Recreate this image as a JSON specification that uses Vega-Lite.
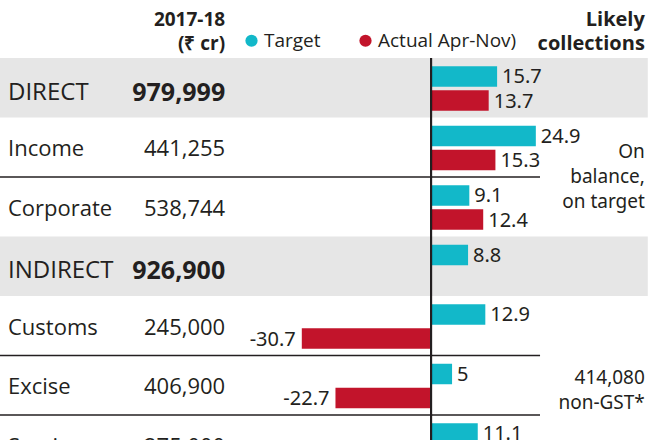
{
  "$schema": "https://vega.github.io/schema/vega-lite/v6.json",
  "width": 660,
  "height": 440,
  "autosize": {"type": "none"},
  "padding": 0,
  "background": "white",
  "config": {"view": {"stroke": null}, "font": "Open Sans", "text": {"color": "#231F20"}},
  "datasets": {
    "rows": [
      {"row": "DIRECT", "name": "DIRECT", "total": 979999, "kind": "main"},
      {"row": "Income", "name": "Income", "total": 441255, "kind": "sub"},
      {"row": "Corporate", "name": "Corporate", "total": 538744, "kind": "sub"},
      {"row": "INDIRECT", "name": "INDIRECT", "total": 926900, "kind": "main"},
      {"row": "Customs", "name": "Customs", "total": 245000, "kind": "sub"},
      {"row": "Excise", "name": "Excise", "total": 406900, "kind": "sub"},
      {"row": "Service", "name": "Service", "total": 275000, "kind": "sub"}
    ],
    "bars": [
      {"row": "DIRECT", "series": "Target", "value": 15.7},
      {"row": "DIRECT", "series": "Actual Apr-Nov)", "value": 13.7},
      {"row": "Income", "series": "Target", "value": 24.9},
      {"row": "Income", "series": "Actual Apr-Nov)", "value": 15.3},
      {"row": "Corporate", "series": "Target", "value": 9.1},
      {"row": "Corporate", "series": "Actual Apr-Nov)", "value": 12.4},
      {"row": "INDIRECT", "series": "Target", "value": 8.8},
      {"row": "Customs", "series": "Target", "value": 12.9},
      {"row": "Customs", "series": "Actual Apr-Nov)", "value": -30.7},
      {"row": "Excise", "series": "Target", "value": 5},
      {"row": "Excise", "series": "Actual Apr-Nov)", "value": -22.7},
      {"row": "Service", "series": "Target", "value": 11.1}
    ],
    "lines": [{"row": "Income"}, {"row": "Customs"}, {"row": "Excise"}],
    "notes": [
      {"row": "Income", "note": "On\nbalance,\non target"},
      {"row": "Excise", "note": "414,080\nnon-GST*"}
    ]
  },
  "layer": [
    {
      "data": {"name": "rows"},
      "transform": [{"filter": "datum.kind === 'main'"}],
      "mark": {"type": "rect", "color": "#E6E6E6"},
      "encoding": {
        "y": {"field": "row", "type": "nominal", "axis": null, "scale": {"type": "band", "domain": ["header", "DIRECT", "Income", "Corporate", "INDIRECT", "Customs", "Excise", "Service"], "range": [-1.5, 474.5], "paddingInner": 0, "paddingOuter": 0}},
        "x": {"datum": -102.4, "type": "quantitative", "axis": null, "scale": {"domain": [-102.4, 54.4], "nice": false, "zero": false}},
        "x2": {"datum": 51.5}
      }
    },
    {
      "data": {"name": "lines"},
      "mark": {"type": "rule", "color": "#231F20", "strokeWidth": 1.5},
      "encoding": {
        "y": {"field": "row", "type": "nominal", "bandPosition": 1, "axis": null, "scale": {"type": "band", "domain": ["header", "DIRECT", "Income", "Corporate", "INDIRECT", "Customs", "Excise", "Service"], "range": [-1.5, 474.5], "paddingInner": 0, "paddingOuter": 0}},
        "x": {"datum": -102.4, "type": "quantitative", "axis": null, "scale": {"domain": [-102.4, 54.4], "nice": false, "zero": false}},
        "x2": {"datum": 25.9}
      }
    },
    {
      "data": {"name": "bars"},
      "mark": {"type": "bar"},
      "encoding": {
        "y": {"field": "row", "type": "nominal", "axis": null, "scale": {"type": "band", "domain": ["header", "DIRECT", "Income", "Corporate", "INDIRECT", "Customs", "Excise", "Service"], "range": [-1.5, 474.5], "paddingInner": 0, "paddingOuter": 0}},
        "yOffset": {"field": "series", "type": "nominal", "scale": {"domain": ["Target", "Actual Apr-Nov)"], "paddingInner": 0.146, "paddingOuter": 0.3125, "align": 0.55}},
        "x": {"field": "value", "type": "quantitative", "axis": null, "scale": {"domain": [-102.4, 54.4], "nice": false, "zero": false}},
        "color": {
          "field": "series", "type": "nominal",
          "scale": {"domain": ["Target", "Actual Apr-Nov)"], "range": ["#12B8C9", "#C2142B"]},
          "legend": {"title": null, "orient": "none", "direction": "horizontal", "legendX": 242, "legendY": 31, "symbolType": "circle", "symbolSize": 150, "symbolStrokeWidth": 0, "labelFont": "Open Sans", "labelFontSize": 19, "labelColor": "#231F20", "labelOffset": 3, "columnPadding": 35}
        }
      }
    },
    {
      "data": {"name": "bars"},
      "transform": [{"filter": "datum.value >= 0"}],
      "mark": {"type": "text", "align": "left", "baseline": "middle", "dx": 5, "dy": 1, "font": "Noto Sans", "fontSize": 20},
      "encoding": {
        "y": {"field": "row", "type": "nominal", "axis": null, "scale": {"type": "band", "domain": ["header", "DIRECT", "Income", "Corporate", "INDIRECT", "Customs", "Excise", "Service"], "range": [-1.5, 474.5], "paddingInner": 0, "paddingOuter": 0}},
        "yOffset": {"field": "series", "type": "nominal", "scale": {"domain": ["Target", "Actual Apr-Nov)"], "paddingInner": 0.146, "paddingOuter": 0.3125, "align": 0.55}},
        "x": {"field": "value", "type": "quantitative", "axis": null, "scale": {"domain": [-102.4, 54.4], "nice": false, "zero": false}},
        "text": {"field": "value", "type": "nominal"}
      }
    },
    {
      "data": {"name": "bars"},
      "transform": [{"filter": "datum.value < 0"}],
      "mark": {"type": "text", "align": "right", "baseline": "middle", "dx": -6, "dy": 1, "font": "Noto Sans", "fontSize": 20},
      "encoding": {
        "y": {"field": "row", "type": "nominal", "axis": null, "scale": {"type": "band", "domain": ["header", "DIRECT", "Income", "Corporate", "INDIRECT", "Customs", "Excise", "Service"], "range": [-1.5, 474.5], "paddingInner": 0, "paddingOuter": 0}},
        "yOffset": {"field": "series", "type": "nominal", "scale": {"domain": ["Target", "Actual Apr-Nov)"], "paddingInner": 0.146, "paddingOuter": 0.3125, "align": 0.55}},
        "x": {"field": "value", "type": "quantitative", "axis": null, "scale": {"domain": [-102.4, 54.4], "nice": false, "zero": false}},
        "text": {"field": "value", "type": "nominal"}
      }
    },
    {
      "data": {"name": "rows"},
      "mark": {"type": "rule", "color": "#231F20", "strokeWidth": 2},
      "encoding": {
        "x": {"datum": 0, "type": "quantitative", "axis": null, "scale": {"domain": [-102.4, 54.4], "nice": false, "zero": false}},
        "y": {"datum": "DIRECT", "bandPosition": 0, "type": "nominal", "axis": null, "scale": {"type": "band", "domain": ["header", "DIRECT", "Income", "Corporate", "INDIRECT", "Customs", "Excise", "Service"], "range": [-1.5, 474.5], "paddingInner": 0, "paddingOuter": 0}},
        "y2": {"datum": "Service"}
      }
    },
    {
      "data": {"name": "rows"},
      "transform": [{"filter": "datum.kind === 'main'"}],
      "mark": {"type": "text", "align": "left", "baseline": "middle", "dy": 5, "fontSize": 24},
      "encoding": {
        "y": {"field": "row", "type": "nominal", "axis": null, "scale": {"type": "band", "domain": ["header", "DIRECT", "Income", "Corporate", "INDIRECT", "Customs", "Excise", "Service"], "range": [-1.5, 474.5], "paddingInner": 0, "paddingOuter": 0}},
        "x": {"datum": -100.5, "type": "quantitative", "axis": null, "scale": {"domain": [-102.4, 54.4], "nice": false, "zero": false}},
        "text": {"field": "name", "type": "nominal"}
      }
    },
    {
      "data": {"name": "rows"},
      "transform": [{"filter": "datum.kind === 'sub'"}],
      "mark": {"type": "text", "align": "left", "baseline": "middle", "dy": 2, "fontSize": 22},
      "encoding": {
        "y": {"field": "row", "type": "nominal", "axis": null, "scale": {"type": "band", "domain": ["header", "DIRECT", "Income", "Corporate", "INDIRECT", "Customs", "Excise", "Service"], "range": [-1.5, 474.5], "paddingInner": 0, "paddingOuter": 0}},
        "x": {"datum": -100.5, "type": "quantitative", "axis": null, "scale": {"domain": [-102.4, 54.4], "nice": false, "zero": false}},
        "text": {"field": "name", "type": "nominal"}
      }
    },
    {
      "data": {"name": "rows"},
      "transform": [{"filter": "datum.kind === 'main'"}],
      "mark": {"type": "text", "align": "right", "baseline": "middle", "dy": 5, "fontSize": 25, "fontWeight": "bold"},
      "encoding": {
        "y": {"field": "row", "type": "nominal", "axis": null, "scale": {"type": "band", "domain": ["header", "DIRECT", "Income", "Corporate", "INDIRECT", "Customs", "Excise", "Service"], "range": [-1.5, 474.5], "paddingInner": 0, "paddingOuter": 0}},
        "x": {"datum": -48.9, "type": "quantitative", "axis": null, "scale": {"domain": [-102.4, 54.4], "nice": false, "zero": false}},
        "text": {"field": "total", "type": "quantitative", "format": ","}
      }
    },
    {
      "data": {"name": "rows"},
      "transform": [{"filter": "datum.kind === 'sub'"}],
      "mark": {"type": "text", "align": "right", "baseline": "middle", "dy": 2, "fontSize": 22},
      "encoding": {
        "y": {"field": "row", "type": "nominal", "axis": null, "scale": {"type": "band", "domain": ["header", "DIRECT", "Income", "Corporate", "INDIRECT", "Customs", "Excise", "Service"], "range": [-1.5, 474.5], "paddingInner": 0, "paddingOuter": 0}},
        "x": {"datum": -48.9, "type": "quantitative", "axis": null, "scale": {"domain": [-102.4, 54.4], "nice": false, "zero": false}},
        "text": {"field": "total", "type": "quantitative", "format": ","}
      }
    },
    {
      "data": {"values": [{"h": "2017-18\n(₹ cr)"}]},
      "mark": {"type": "text", "align": "right", "baseline": "middle", "dy": -8, "fontSize": 19, "fontWeight": "bold", "lineHeight": 24, "lineBreak": "\n"},
      "encoding": {
        "y": {"datum": "header", "type": "nominal", "axis": null, "scale": {"type": "band", "domain": ["header", "DIRECT", "Income", "Corporate", "INDIRECT", "Customs", "Excise", "Service"], "range": [-1.5, 474.5], "paddingInner": 0, "paddingOuter": 0}},
        "x": {"datum": -48.9, "type": "quantitative", "axis": null, "scale": {"domain": [-102.4, 54.4], "nice": false, "zero": false}},
        "text": {"field": "h", "type": "nominal"}
      }
    },
    {
      "data": {"values": [{"h": "Likely\ncollections"}]},
      "mark": {"type": "text", "align": "right", "baseline": "middle", "dy": -8, "fontSize": 20, "fontWeight": "bold", "lineHeight": 24, "lineBreak": "\n"},
      "encoding": {
        "y": {"datum": "header", "type": "nominal", "axis": null, "scale": {"type": "band", "domain": ["header", "DIRECT", "Income", "Corporate", "INDIRECT", "Customs", "Excise", "Service"], "range": [-1.5, 474.5], "paddingInner": 0, "paddingOuter": 0}},
        "x": {"datum": 50.8, "type": "quantitative", "axis": null, "scale": {"domain": [-102.4, 54.4], "nice": false, "zero": false}},
        "text": {"field": "h", "type": "nominal"}
      }
    },
    {
      "data": {"name": "notes"},
      "transform": [{"filter": "datum.row === 'Income'"}],
      "mark": {"type": "text", "align": "right", "baseline": "middle", "dy": -25, "font": "Noto Sans", "fontSize": 19, "lineHeight": 25, "lineBreak": "\n"},
      "encoding": {
        "y": {"field": "row", "type": "nominal", "bandPosition": 1, "axis": null, "scale": {"type": "band", "domain": ["header", "DIRECT", "Income", "Corporate", "INDIRECT", "Customs", "Excise", "Service"], "range": [-1.5, 474.5], "paddingInner": 0, "paddingOuter": 0}},
        "x": {"datum": 50.8, "type": "quantitative", "axis": null, "scale": {"domain": [-102.4, 54.4], "nice": false, "zero": false}},
        "text": {"field": "note", "type": "nominal"}
      }
    },
    {
      "data": {"name": "notes"},
      "transform": [{"filter": "datum.row === 'Excise'"}],
      "mark": {"type": "text", "align": "right", "baseline": "middle", "dy": -7, "font": "Noto Sans", "fontSize": 19, "lineHeight": 25, "lineBreak": "\n"},
      "encoding": {
        "y": {"field": "row", "type": "nominal", "axis": null, "scale": {"type": "band", "domain": ["header", "DIRECT", "Income", "Corporate", "INDIRECT", "Customs", "Excise", "Service"], "range": [-1.5, 474.5], "paddingInner": 0, "paddingOuter": 0}},
        "x": {"datum": 50.8, "type": "quantitative", "axis": null, "scale": {"domain": [-102.4, 54.4], "nice": false, "zero": false}},
        "text": {"field": "note", "type": "nominal"}
      }
    }
  ]
}
